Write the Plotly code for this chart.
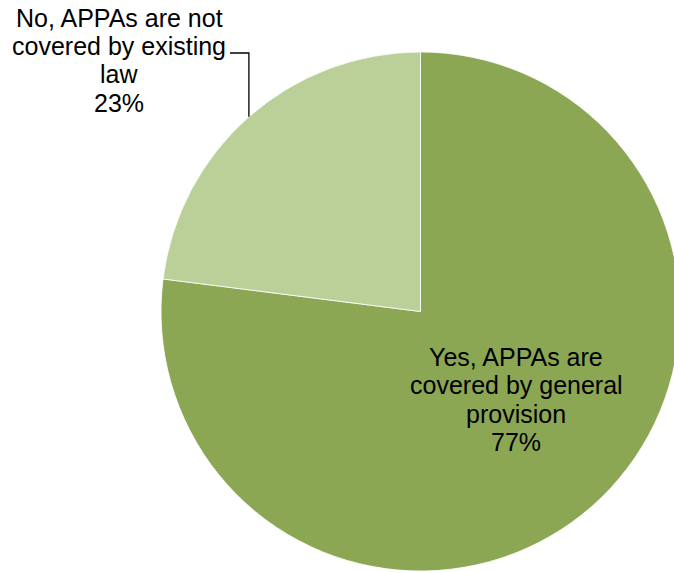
import math
import plotly.graph_objects as go

# Survey answers and their shares (%)
labels = ["Yes, APPAs are covered by general provision",
          "No, APPAs are not covered by existing law"]
label_lines = [["Yes, APPAs are", "covered by general", "provision"],
               ["No, APPAs are not", "covered by existing", "law"]]
values = [77, 23]
colors = ["#8BA753", "#BBCF98"]

W, H = 700, 573
# pie placement in pixels
cx, cy, r = 420.5, 311.5, 259.5

fig = go.Figure(go.Pie(
    labels=labels,
    values=values,
    sort=False,
    direction="clockwise",
    rotation=0,
    marker=dict(colors=colors, line=dict(color="white", width=0.8)),
    textinfo="none",
    hoverinfo="label+percent",
    showlegend=False,
    domain=dict(x=[(cx - r) / W, (cx + r) / W],
                y=[1 - (cy + r) / H, 1 - (cy - r) / H]),
))

FONT = dict(family="Liberation Sans, Arial, sans-serif", size=25, color="black")
LINE_H = 28.5
total = sum(values)


def add_label(lines, pct, x_px, first_baseline_px):
    rows = lines + [f"{pct}%"]
    for i, t in enumerate(rows):
        y_base = first_baseline_px + i * LINE_H
        fig.add_annotation(
            x=x_px / W, y=1 - (y_base - 8.5) / H, xref="paper", yref="paper",
            text=t, showarrow=False, font=FONT,
            xanchor="center", yanchor="middle",
        )


# large slice: label inside
add_label(label_lines[0], round(100 * values[0] / total), 516, 365)
# small slice: label outside with a leader line
add_label(label_lines[1], round(100 * values[1] / total), 119, 26)

# leader line from the small slice's mid-angle edge point up to the label
start = values[0] / total * 360
mid = math.radians(start + values[1] / total * 180)
ex = cx + r * math.sin(mid)
ey = cy - r * math.cos(mid)
fig.add_shape(
    type="path", xref="paper", yref="paper",
    path=(f"M {230 / W},{1 - 53 / H} L {ex / W},{1 - 53 / H} "
          f"L {ex / W},{1 - ey / H}"),
    line=dict(color="black", width=1.3),
)

fig.update_layout(
    width=W, height=H,
    margin=dict(l=0, r=0, t=0, b=0),
    paper_bgcolor="white", plot_bgcolor="white",
)

fig.write_html(
    "out.html",
    post_script="document.documentElement.style.overflow='hidden';"
                "document.body.style.overflow='hidden';",
)
